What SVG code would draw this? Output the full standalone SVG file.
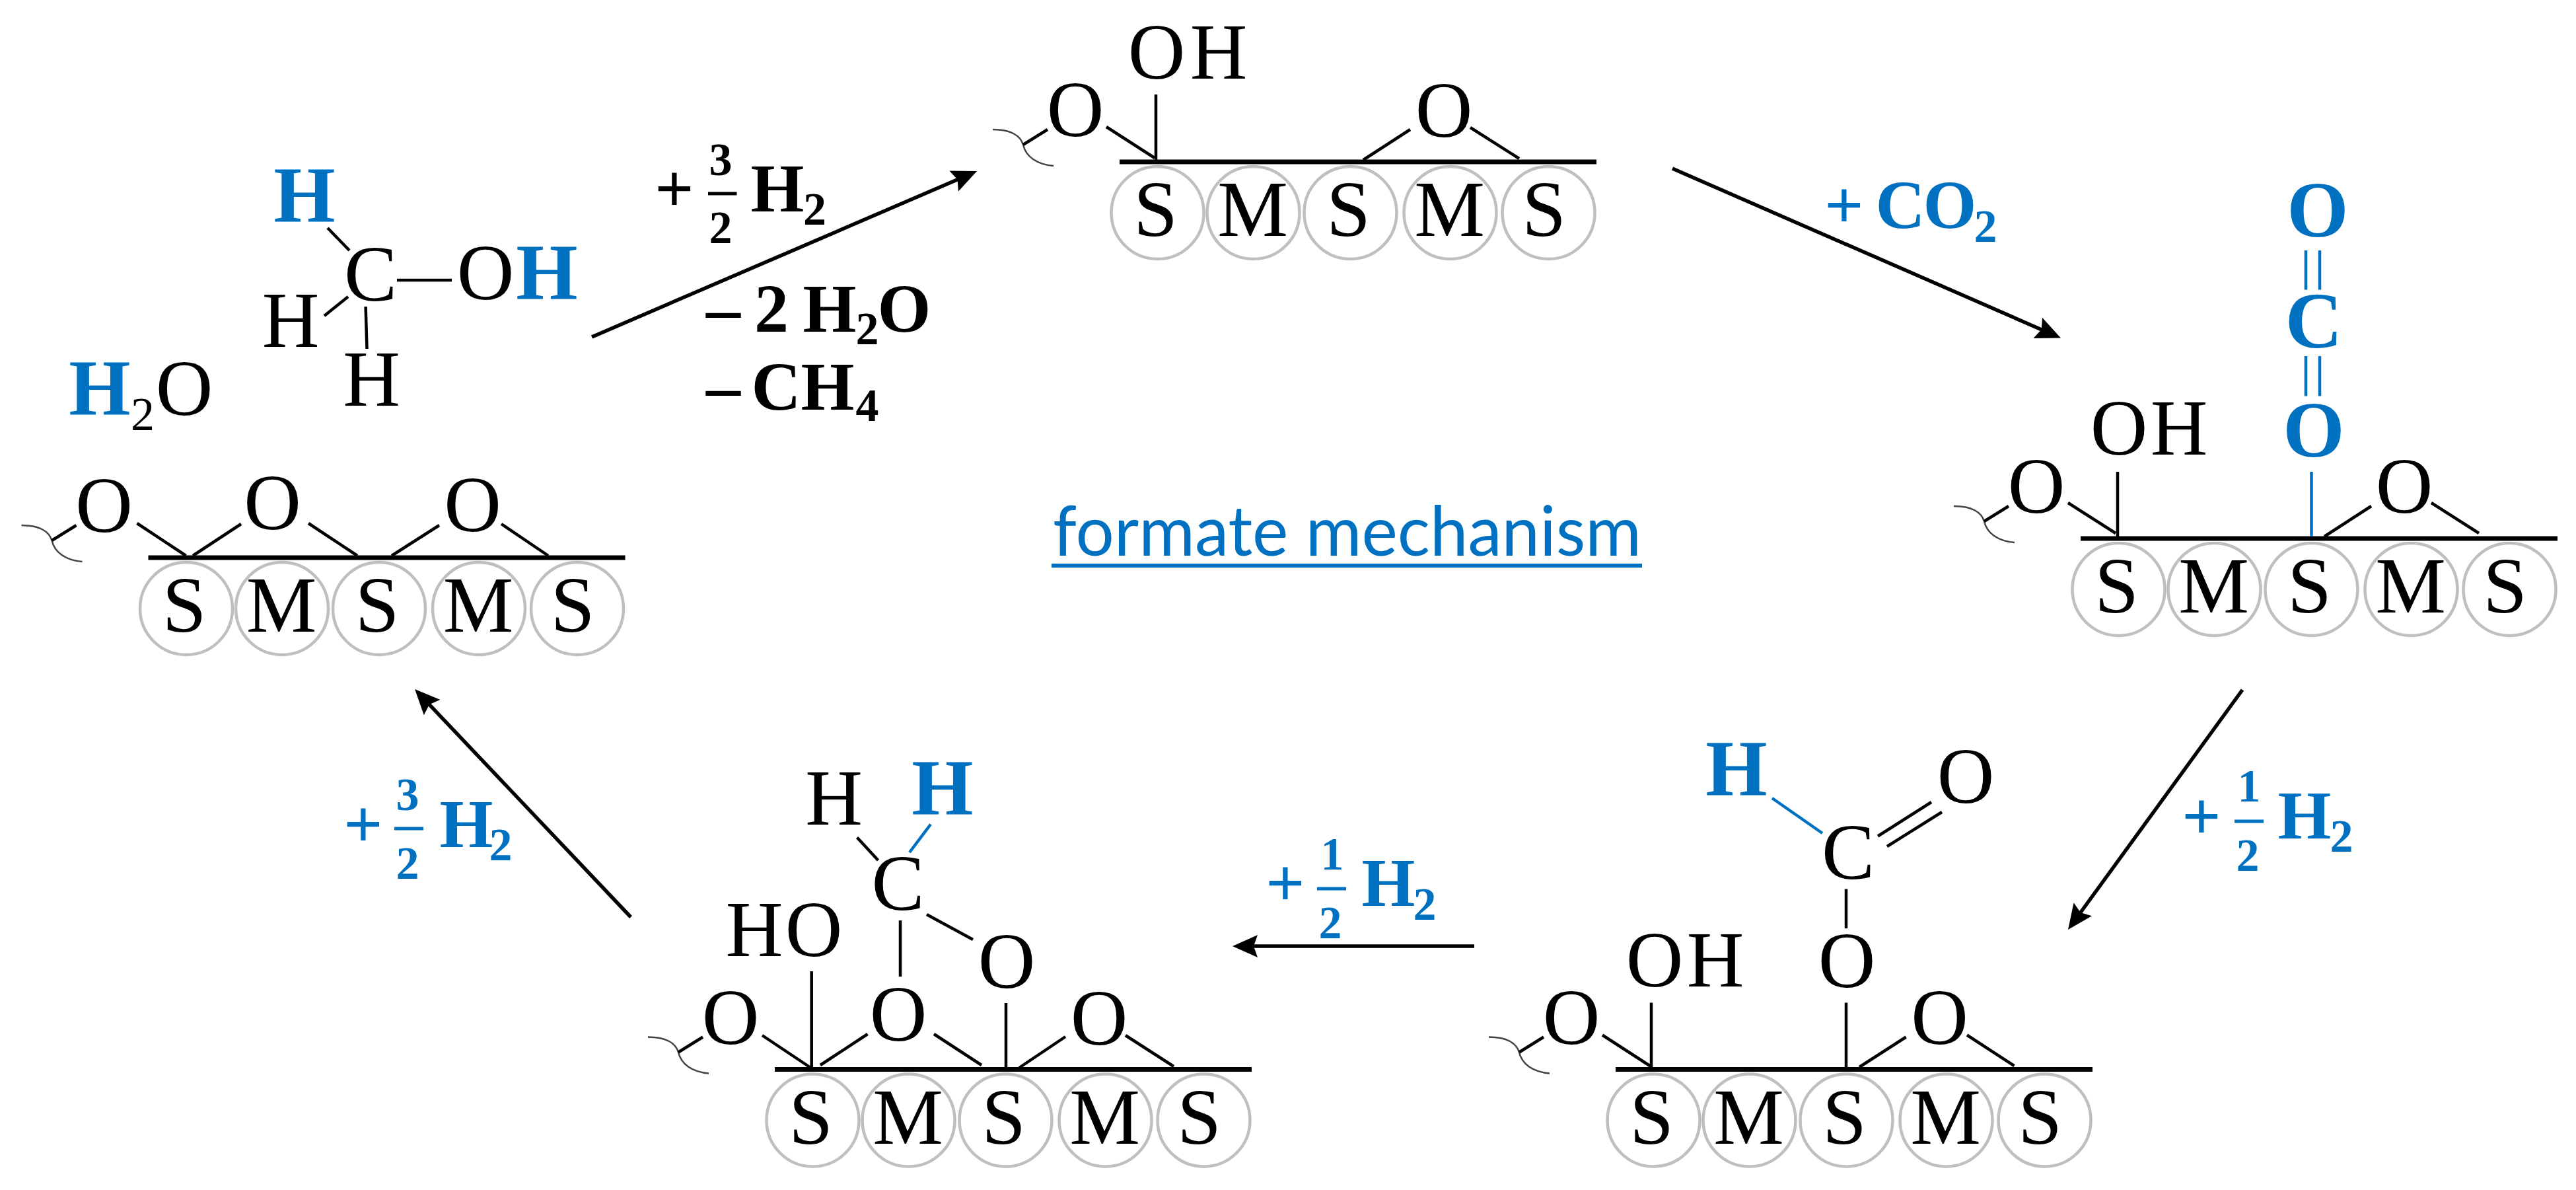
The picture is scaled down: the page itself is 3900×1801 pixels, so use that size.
<svg xmlns="http://www.w3.org/2000/svg" xmlns:xlink="http://www.w3.org/1999/xlink" width="3900" height="1801" viewBox="0 0 3900 1801">
<style>
text{font-family:"Liberation Serif","DejaVu Serif",serif;text-anchor:middle;fill:#000}
.t{font-size:120px}
.tb{font-size:120px;font-weight:700;fill:#0070c0}
.sub{font-size:72px}
.l{font-size:104px;font-weight:700}
.d{font-size:70px;font-weight:700}
.blue{fill:#0070c0}
.bond{stroke:#000;stroke-width:4.5;fill:none}
.bb{stroke:#0070c0;stroke-width:4.5;fill:none}
.surf{stroke:#000;stroke-width:7;fill:none}
.atom{fill:none;stroke:#bfbfbf;stroke-width:4.5}
.sq{fill:none;stroke:#444;stroke-width:2.5}
.arr{stroke:#000;stroke-width:5.5;fill:none;marker-end:url(#arrow)}
.bar{stroke:#000;stroke-width:5;fill:none}
.barb{stroke:#0070c0;stroke-width:5;fill:none}
.lat{font-family:Lato,"Open Sans",sans-serif;font-size:104px;fill:#0070c0;text-anchor:start}
</style>
<defs>
<marker id="arrow" markerUnits="userSpaceOnUse" markerWidth="40" markerHeight="36" refX="30" refY="18" orient="auto"><path d="M0,1 L38,18 L0,35 L6,18 Z" fill="#000"/></marker>
<g id="surface">
<ellipse class="atom" cx="57.5" cy="77" rx="70" ry="70"/>
<ellipse class="atom" cx="202.5" cy="77" rx="70" ry="70"/>
<ellipse class="atom" cx="349.5" cy="77" rx="70" ry="70"/>
<ellipse class="atom" cx="500.5" cy="77" rx="70" ry="70"/>
<ellipse class="atom" cx="649.5" cy="77" rx="70" ry="70"/>
<line class="surf" x1="0" y1="0" x2="722" y2="0"/>
<path class="sq" d="M-192,-49 C-165,-49 -150,-40 -146,-26 C-142,-8 -125,4 -100,6"/>
<line class="bond" x1="-146" y1="-26" x2="-109" y2="-49"/>
<text class="t" x="54.5" y="112">S</text>
<text class="t" x="201.5" y="112">M</text>
<text class="t" x="346.5" y="112">S</text>
<text class="t" x="499.5" y="112">M</text>
<text class="t" x="642.5" y="112">S</text>
<text class="t" x="-67" y="-39">O</text>
</g>
</defs>
<rect width="3900" height="1801" fill="#fff"/>

<g id="connectors">
<line class="arr" x1="896" y1="510" x2="1471.7" y2="262.2"/>
<line class="arr" x1="2532" y1="255" x2="3112.7" y2="508.4"/>
<line class="arr" x1="3395" y1="1044" x2="3135.7" y2="1400.5"/>
<line class="arr" x1="2232" y1="1432" x2="1874" y2="1432"/>
<line class="arr" x1="955" y1="1388" x2="633.5" y2="1048.8"/>
</g>

<g id="node-methanol">
<text class="tb" x="461" y="336">H</text>
<text class="t" x="561" y="455">C</text>
<text class="t" y="453"><tspan x="735">O</tspan><tspan class="tb" x="828">H</tspan></text>
<text class="t" x="440" y="525">H</text>
<text class="t" x="562.5" y="614">H</text>
<line class="bond" x1="496" y1="345" x2="529" y2="379"/>
<line class="bond" x1="491" y1="478" x2="527" y2="449"/>
<line class="bond" x1="553.6" y1="464" x2="555.5" y2="528"/>
<line class="bond" x1="601" y1="424" x2="684" y2="424"/>
</g>

<g id="node-water">
<text class="t" y="628"><tspan class="tb" x="151">H</tspan><tspan class="sub" x="216" y="651">2</tspan><tspan x="279" y="628">O</tspan></text>
</g>

<g id="node-surface-a" transform="translate(224.5,844)">
<use href="#surface"/>
<text class="t" x="188" y="-43">O</text>
<text class="t" x="491" y="-40">O</text>
<line class="bond" x1="-17" y1="-52" x2="57" y2="-3"/>
<line class="bond" x1="67.5" y1="-3" x2="140.5" y2="-51"/>
<line class="bond" x1="242.5" y1="-52" x2="316.5" y2="-3"/>
<line class="bond" x1="368.5" y1="-3" x2="440.5" y2="-49"/>
<line class="bond" x1="534.5" y1="-51" x2="605.5" y2="-3"/>
</g>

<g id="node-surface-b" transform="translate(1695,245)">
<use href="#surface"/>
<text class="t" y="-126"><tspan x="56">O</tspan><tspan x="150">H</tspan></text>
<text class="t" x="491" y="-38">O</text>
<line class="bond" x1="55" y1="-102" x2="55" y2="0"/>
<line class="bond" x1="-20" y1="-53" x2="53" y2="-6"/>
<line class="bond" x1="369" y1="-3" x2="440" y2="-49"/>
<line class="bond" x1="531" y1="-52" x2="605" y2="-5"/>
</g>

<g id="node-surface-c" transform="translate(3150,815)">
<use href="#surface"/>
<text class="t" y="-127"><tspan x="58">O</tspan><tspan x="149">H</tspan></text>
<text class="t" x="490" y="-39">O</text>
<line class="bond" x1="56" y1="-101" x2="56" y2="0"/>
<line class="bond" x1="-19" y1="-54" x2="53" y2="-8"/>
<line class="bond" x1="369" y1="-3" x2="440" y2="-49"/>
<line class="bond" x1="531" y1="-54" x2="603" y2="-8"/>
<text class="tb" x="353" y="-124">O</text>
<text class="tb" x="353" y="-289">C</text>
<text class="tb" x="359" y="-457">O</text>
<line class="bb" x1="349.5" y1="-101" x2="349.5" y2="-3"/>
<path class="bb" d="M341,-436 V-376.5 M362,-436 V-376.5 M341,-276 V-215.5 M362,-276 V-215.5"/>
</g>

<g id="node-surface-d" transform="translate(2446,1618.5)">
<use href="#surface"/>
<text class="t" y="-125.5"><tspan x="59">O</tspan><tspan x="151">H</tspan></text>
<text class="t" x="350" y="-124.5">O</text>
<text class="t" x="490.6" y="-39">O</text>
<text class="t" x="352" y="-288.5">C</text>
<text class="tb" x="183" y="-414.5">H</text>
<text class="t" x="530" y="-403.5">O</text>
<line class="bond" x1="54" y1="-101" x2="54" y2="0"/>
<line class="bond" x1="-20" y1="-52" x2="52.5" y2="-5"/>
<line class="bond" x1="349" y1="-101" x2="349" y2="0"/>
<line class="bond" x1="349" y1="-273" x2="349" y2="-213.5"/>
<line class="bond" x1="369" y1="-3.5" x2="439.6" y2="-49"/>
<line class="bond" x1="532" y1="-52" x2="603.5" y2="-5.5"/>
<line class="bb" x1="237" y1="-410.5" x2="313" y2="-357.5"/>
<line class="bond" x1="397" y1="-353" x2="478" y2="-404.5"/>
<line class="bond" x1="411" y1="-337.5" x2="494" y2="-389.5"/>
</g>

<g id="node-surface-e" transform="translate(1173,1618.5)">
<use href="#surface"/>
<text class="t" y="-172"><tspan x="-31">H</tspan><tspan x="59">O</tspan></text>
<text class="t" x="187" y="-43.5">O</text>
<text class="t" x="351" y="-123.5">O</text>
<text class="t" x="491" y="-38">O</text>
<text class="t" x="186.4" y="-241.5">C</text>
<text class="t" x="89.5" y="-371">H</text>
<text class="tb" x="254" y="-385.5">H</text>
<line class="bond" x1="55.7" y1="-148.5" x2="55.7" y2="0"/>
<line class="bond" x1="-19" y1="-51.5" x2="54.4" y2="-2.5"/>
<line class="bond" x1="69" y1="-6.5" x2="140.5" y2="-53.5"/>
<line class="bond" x1="241" y1="-53.5" x2="313" y2="-6.5"/>
<line class="bond" x1="350" y1="-100.5" x2="350" y2="0"/>
<line class="bond" x1="370" y1="-2.5" x2="440" y2="-49.5"/>
<line class="bond" x1="531" y1="-51.5" x2="604" y2="-4.5"/>
<line class="bond" x1="190" y1="-225.5" x2="190" y2="-140.5"/>
<line class="bond" x1="230" y1="-234.5" x2="300" y2="-196.5"/>
<line class="bond" x1="124.6" y1="-351" x2="156.5" y2="-316.5"/>
<line class="bb" x1="236" y1="-371" x2="204" y2="-328.5"/>
</g>

<g id="label-step1">
<text class="l" x="1021" y="320">+</text>
<text class="d" x="1091" y="265">3</text>
<line class="bar" x1="1072" y1="293" x2="1115.5" y2="293"/>
<text class="d" x="1091" y="368">2</text>
<text class="l" y="320"><tspan x="1177">H</tspan><tspan class="d" x="1233.5" y="340">2</tspan></text>
<text class="l" y="502"><tspan x="1095">–</tspan><tspan x="1168">2</tspan><tspan x="1256">H</tspan><tspan class="d" x="1313" y="520.6">2</tspan><tspan x="1369" y="502">O</tspan></text>
<text class="l" y="620"><tspan x="1095">–</tspan><tspan x="1175">C</tspan><tspan x="1253">H</tspan><tspan class="d" x="1313" y="637">4</tspan></text>
</g>

<g id="label-step2">
<text class="l blue" y="345"><tspan x="2792">+</tspan><tspan x="2877">C</tspan><tspan x="2952">O</tspan><tspan class="d" x="3006" y="366">2</tspan></text>
</g>

<g id="label-step3">
<text class="l blue" x="3333" y="1270">+</text>
<text class="d blue" x="3405" y="1213">1</text>
<line class="barb" x1="3383" y1="1243" x2="3427" y2="1243"/>
<text class="d blue" x="3403" y="1318">2</text>
<text class="l blue" y="1269"><tspan x="3489">H</tspan><tspan class="d" x="3545" y="1289">2</tspan></text>
</g>

<g id="label-step4">
<text class="l blue" x="1946" y="1371">+</text>
<text class="d blue" x="2017" y="1316">1</text>
<line class="barb" x1="1994" y1="1345" x2="2038" y2="1345"/>
<text class="d blue" x="2014" y="1420">2</text>
<text class="l blue" y="1371"><tspan x="2102">H</tspan><tspan class="d" x="2157" y="1392">2</tspan></text>
</g>

<g id="label-step5">
<text class="l blue" x="550" y="1282">+</text>
<text class="d blue" x="617" y="1226">3</text>
<line class="barb" x1="597" y1="1254" x2="641" y2="1254"/>
<text class="d blue" x="617" y="1330">2</text>
<text class="l blue" y="1282"><tspan x="706">H</tspan><tspan class="d" x="758" y="1302">2</tspan></text>
</g>

<g id="title">
<text class="lat" x="1594" y="841" textLength="891" lengthAdjust="spacingAndGlyphs">formate mechanism</text>
<line x1="1592" y1="856" x2="2486" y2="856" stroke="#0070c0" stroke-width="6"/>
</g>
</svg>
